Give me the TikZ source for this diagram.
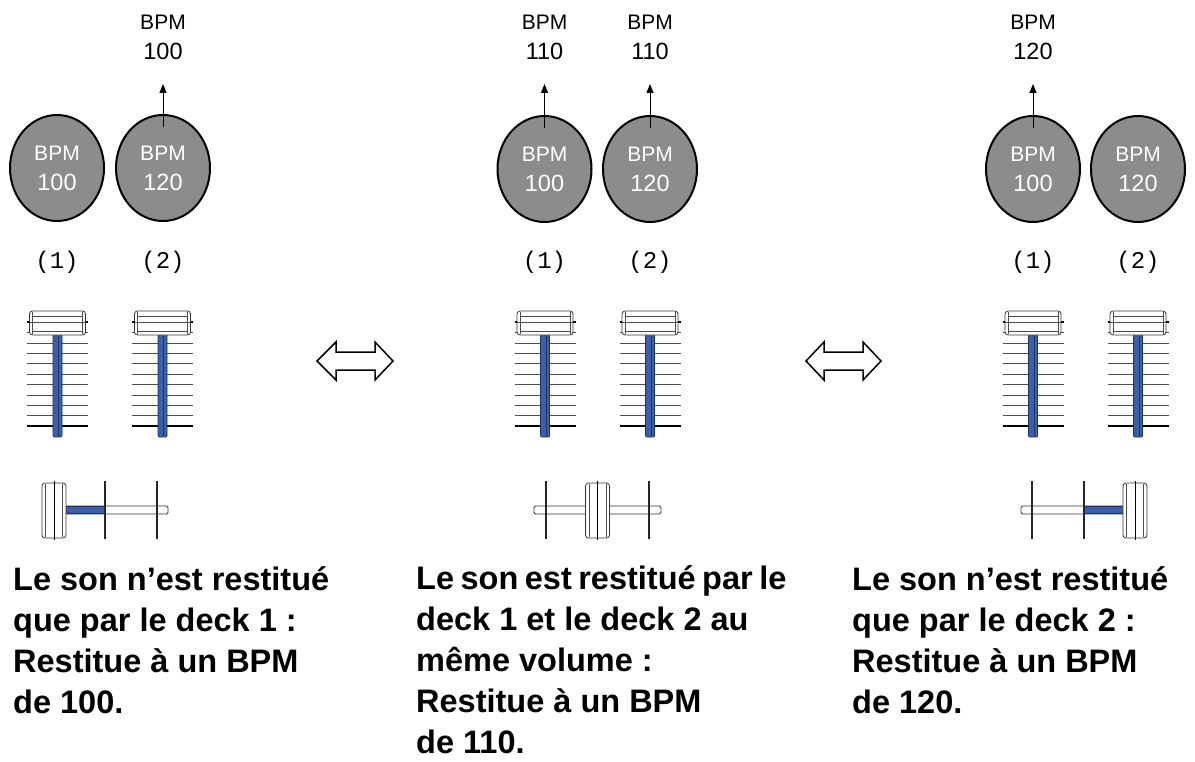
\documentclass[tikz,border=0pt]{standalone}
\usepackage{fontspec}
\setmainfont{Liberation Sans}
\setmonofont{Liberation Mono}
\usetikzlibrary{shapes.geometric,arrows.meta}
\definecolor{stemblue}{RGB}{58,96,170}
\definecolor{stemdark}{RGB}{30,50,100}
\definecolor{deckgray}{RGB}{140,140,140}
\tikzset{
  deck/.style={ellipse,draw=black,line width=2pt,fill=deckgray,text=white,
    minimum width=94pt,minimum height=106pt,inner sep=0pt,align=center,
    font=\fontsize{21}{30}\selectfont},
  bpmlbl/.style={align=center,inner sep=0pt,anchor=south,font=\fontsize{21}{30}\selectfont},
  chlbl/.style={inner sep=0pt,font=\ttfamily\fontsize{24}{24}\selectfont},
  bpmarrow/.style={-{Triangle[length=9pt,width=7pt]},line width=1pt,shorten >=24pt},
  tick/.style={line width=0.9pt,black!70},
  stem/.style={fill=stemblue,draw=stemdark,line width=0.7pt,rounded corners=1pt},
  knob/.style={fill=white,draw=black!80,line width=0.8pt,rounded corners=3pt},
  rail/.style={fill=white,draw=black!80,line width=0.8pt,rounded corners=1.5pt},
  guide/.style={line width=1.6pt,black!85},
  swap/.style={fill=white,draw=black,line width=1.5pt,line join=miter},
  caption/.style={align=left,inner sep=0pt,anchor=base west,
    font=\bfseries\fontsize{32.5}{41}\selectfont}
}
\newcommand{\bignum}[1]{{\fontsize{23.5}{30}\selectfont #1}}
% channel fader, centred at x = #1
\newcommand{\chfader}[1]{%
\begin{scope}[shift={(#1,0)}]
	\foreach \k in {-1,0,...,7}{
		\draw[tick] (-30.5,343+\k*10.4) -- (30.5,343+\k*10.4);}
	\draw[line width=2.2pt] (-30.5,426) -- (30.5,426);
	\draw[stem] (-4.5,330) rectangle (4.5,437);
	\draw[stemdark,line width=0.5pt] (0.8,336) -- (0.8,436);
	\draw[knob] (-28,311) rectangle (28,335);
	\draw[black!70,line width=0.6pt] (-25,316) -- (25,316) (-28,322) -- (28,322)
		(-25,331) -- (25,331) (-25,312) -- (-25,334) (25,312) -- (25,334);
	\draw[line width=1.6pt] (-30.5,322) -- (-28,322) (28,322) -- (30.5,322);
\end{scope}}
% crossfader knob, centred at x = #1
\newcommand{\xknob}[1]{%
	\draw[knob] (#1-12,483) rectangle (#1+12,538);
	\draw[black!70,line width=0.6pt] (#1-8.5,484) -- (#1-8.5,537) (#1+8.5,484) -- (#1+8.5,537);
	\draw[line width=0.9pt] (#1,481) -- (#1,540);}

\begin{document}
\begin{tikzpicture}[x=1pt,y=-1pt]
	\useasboundingbox (0,0) rectangle (1195,762);
	% left: deck 1 only
	\node[deck] (d11) at (57,168) {BPM\\\bignum{100}};
	\node[deck] (d12) at (163,168) {BPM\\\bignum{120}};
	\node[bpmlbl] (b12) at (163,60) {BPM\\\bignum{100}};
	\draw[bpmarrow] ([yshift=-13pt]d12.north) -- (b12.south);
	\node[chlbl] (c11) at (57,262) {(1)};
	\node[chlbl] (c12) at (163,262) {(2)};
	\chfader{57.5}
	\chfader{162.5}
	\draw[rail] (54,506) rectangle (168,514);
	\draw[stem,rounded corners=0pt] (66,506.5) rectangle (105,513.5);
	\draw[guide] (105,481) -- (105,539) (157,481) -- (157,539);
	\xknob{54}
	\node[caption] (t1) at (13,713) {Le son n’est restitué\\que par le deck 1 :\\Restitue à un BPM\\de 100.};
	% middle: both decks
	\node[deck] (d21) at (544.5,169) {BPM\\\bignum{100}};
	\node[deck] (d22) at (650,169) {BPM\\\bignum{120}};
	\node[bpmlbl] (b21) at (544.5,60) {BPM\\\bignum{110}};
	\node[bpmlbl] (b22) at (650,60) {BPM\\\bignum{110}};
	\draw[bpmarrow] ([yshift=-13pt]d21.north) -- (b21.south);
	\draw[bpmarrow] ([yshift=-13pt]d22.north) -- (b22.south);
	\node[chlbl] (c21) at (544.5,262) {(1)};
	\node[chlbl] (c22) at (650,262) {(2)};
	\chfader{545}
	\chfader{650}
	\draw[rail] (534,506) rectangle (661,514);
	\draw[guide] (546,481) -- (546,539) (649,481) -- (649,539);
	\xknob{597.5}
	\node[caption] (t2) at (416,753) {{\spaceskip=0.2em\relax Le son est restitué par le}\\deck 1 et le deck 2 au\\même volume :\\Restitue à un BPM\\de 110.};
	% right: deck 2 only
	\node[deck] (d31) at (1033,169) {BPM\\\bignum{100}};
	\node[deck] (d32) at (1138,169) {BPM\\\bignum{120}};
	\node[bpmlbl] (b31) at (1033,60) {BPM\\\bignum{120}};
	\draw[bpmarrow] ([yshift=-13pt]d31.north) -- (b31.south);
	\node[chlbl] (c31) at (1033,262) {(1)};
	\node[chlbl] (c32) at (1138,262) {(2)};
	\chfader{1033}
	\chfader{1138}
	\draw[rail] (1021,506) rectangle (1135,514);
	\draw[stem,rounded corners=0pt] (1084,506.5) rectangle (1123,513.5);
	\draw[guide] (1032,481) -- (1032,539) (1084,481) -- (1084,539);
	\xknob{1135}
	\node[caption] (t3) at (852,713) {Le son n’est restitué\\que par le deck 2 :\\Restitue à un BPM\\de 120.};
	% swap arrows
	\draw[swap] (317,361) -- (336,342) -- (336,352) -- (375,352) -- (375,342) -- (393,361)
		-- (375,380) -- (375,370) -- (336,370) -- (336,380) -- cycle;
	\draw[swap] (806,361) -- (824,342) -- (824,352) -- (863,352) -- (863,342) -- (881,361)
		-- (863,380) -- (863,370) -- (824,370) -- (824,380) -- cycle;
\end{tikzpicture}
\end{document}
